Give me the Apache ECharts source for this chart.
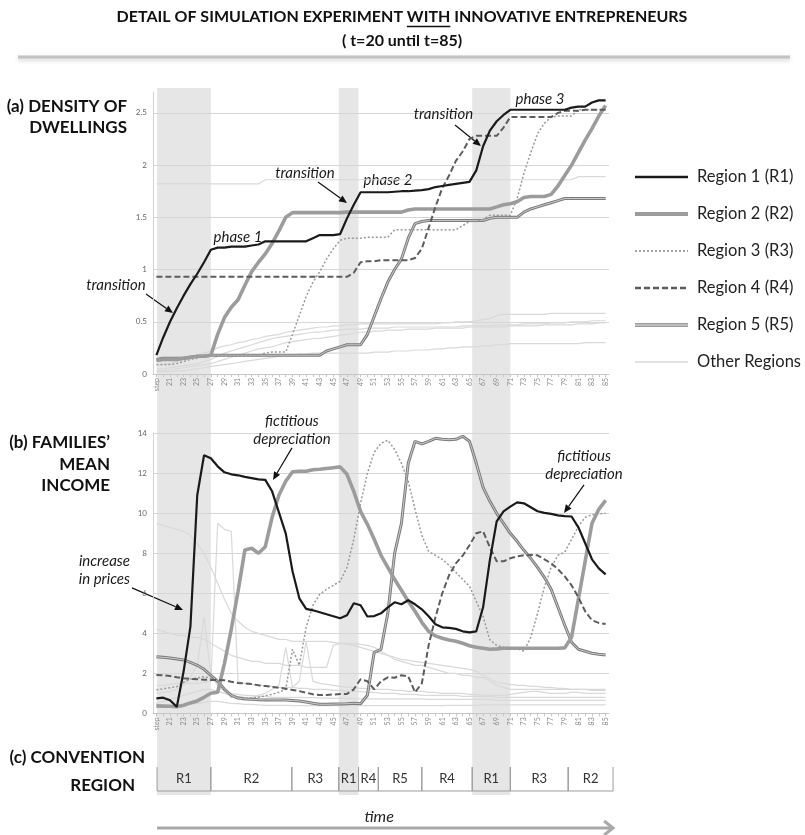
<!DOCTYPE html>
<html>
<head>
<meta charset="utf-8">
<title>Detail of simulation experiment with innovative entrepreneurs</title>
<style>
  html, body { margin: 0; padding: 0; background: #ffffff; }
  #chart { width: 805px; height: 835px; }
</style>
<script src="https://cdn.jsdelivr.net/npm/echarts@6/dist/echarts.min.js"></script>
</head>
<body>
<div id="chart"></div>
<script>
// ---- time steps (category axis) ----
const stepLabels = ['step','20','21','22','23','24','25','26','27','28','29','30','31','32','33','34','35','36','37','38',
  '39','40','41','42','43','44','45','46','47','48','49','50','51','52','53','54','55','56','57','58',
  '59','60','61','62','63','64','65','66','67','68','69','70','71','72','73','74','75','76','77','78',
  '79','80','81','82','83','84','85'];

// ---- (a) density of dwellings ----
const densR1 = [0.18,0.35,0.50,0.63,0.75,0.86,0.96,1.07,1.19,1.21,
  1.21,1.22,1.22,1.22,1.23,1.24,1.27,1.27,1.27,1.27,
  1.27,1.27,1.27,1.30,1.33,1.33,1.33,1.34,1.49,1.62,
  1.74,1.74,1.74,1.74,1.74,1.745,1.75,1.75,1.755,1.76,
  1.77,1.79,1.80,1.81,1.82,1.83,1.84,1.95,2.18,2.33,
  2.42,2.48,2.53,2.53,2.53,2.53,2.53,2.53,2.53,2.53,
  2.53,2.55,2.56,2.56,2.60,2.62,2.62];
const densR2 = [0.13,0.14,0.14,0.14,0.15,0.16,0.17,0.17,0.18,0.38,
  0.54,0.64,0.71,0.85,0.98,1.07,1.15,1.25,1.37,1.50,
  1.545,1.545,1.545,1.545,1.545,1.545,1.545,1.545,1.55,1.55,
  1.55,1.55,1.55,1.55,1.55,1.55,1.55,1.57,1.58,1.58,
  1.58,1.58,1.58,1.58,1.58,1.58,1.58,1.58,1.58,1.58,
  1.60,1.62,1.63,1.65,1.69,1.70,1.70,1.70,1.72,1.80,
  1.90,2.00,2.12,2.24,2.35,2.47,2.57];
const densR3 = [0.09,0.09,0.09,0.10,0.12,0.14,0.15,0.17,0.18,0.18,
  0.18,0.18,0.18,0.18,0.18,0.18,0.20,0.21,0.21,0.21,
  0.38,0.56,0.74,0.88,0.98,1.10,1.20,1.28,1.30,1.30,
  1.30,1.31,1.31,1.31,1.31,1.38,1.38,1.38,1.38,1.38,
  1.38,1.38,1.38,1.38,1.38,1.42,1.46,1.46,1.48,1.52,
  1.52,1.52,1.52,1.68,1.92,2.12,2.30,2.40,2.46,2.47,
  2.47,2.47,2.53,2.53,2.53,2.53,2.53];
const densR4 = [0.93,0.93,0.93,0.93,0.93,0.93,0.93,0.93,0.93,0.93,
  0.93,0.93,0.93,0.93,0.93,0.93,0.93,0.93,0.93,0.93,
  0.93,0.93,0.93,0.93,0.93,0.93,0.93,0.93,0.93,0.97,
  1.07,1.08,1.08,1.09,1.09,1.09,1.09,1.09,1.11,1.20,
  1.40,1.60,1.78,1.90,2.04,2.13,2.25,2.28,2.28,2.28,
  2.28,2.36,2.46,2.46,2.46,2.46,2.46,2.46,2.46,2.50,
  2.52,2.52,2.52,2.53,2.53,2.53,2.53];
const densR5 = [0.14,0.15,0.15,0.15,0.15,0.16,0.17,0.17,0.18,0.18,
  0.18,0.18,0.18,0.18,0.18,0.18,0.18,0.18,0.18,0.18,
  0.18,0.18,0.18,0.18,0.18,0.22,0.24,0.26,0.28,0.28,
  0.28,0.38,0.55,0.72,0.88,1.00,1.10,1.30,1.44,1.46,
  1.47,1.47,1.47,1.47,1.47,1.47,1.47,1.47,1.47,1.49,
  1.50,1.50,1.50,1.50,1.55,1.58,1.60,1.62,1.64,1.66,
  1.68,1.68,1.68,1.68,1.68,1.68,1.68];
const densOther1 = [1.82,1.82,1.82,1.82,1.82,1.82,1.82,1.82,1.82,1.82,
  1.82,1.82,1.82,1.82,1.82,1.82,1.86,1.86,1.86,1.86,
  1.86,1.86,1.86,1.86,1.86,1.86,1.86,1.86,1.86,1.86,
  1.86,1.86,1.86,1.86,1.86,1.86,1.86,1.86,1.86,1.86,
  1.86,1.86,1.86,1.86,1.86,1.86,1.86,1.86,1.86,1.86,
  1.86,1.86,1.86,1.86,1.86,1.86,1.86,1.86,1.86,1.86,
  1.86,1.86,1.89,1.89,1.89,1.89,1.89];
const densOther2 = [0.08,0.09,0.10,0.12,0.14,0.16,0.18,0.20,0.22,0.25,
  0.27,0.28,0.30,0.31,0.33,0.34,0.36,0.37,0.38,0.40,
  0.41,0.42,0.43,0.44,0.45,0.45,0.46,0.46,0.47,0.47,
  0.48,0.48,0.48,0.48,0.48,0.48,0.48,0.48,0.48,0.48,
  0.48,0.48,0.49,0.49,0.50,0.50,0.50,0.51,0.52,0.53,
  0.56,0.57,0.57,0.57,0.57,0.57,0.57,0.57,0.58,0.58,
  0.58,0.58,0.58,0.58,0.58,0.58,0.58];
const densOther3 = [0.05,0.05,0.06,0.07,0.08,0.09,0.10,0.12,0.14,0.17,
  0.20,0.22,0.24,0.26,0.28,0.30,0.32,0.34,0.35,0.36,
  0.37,0.38,0.39,0.40,0.40,0.41,0.42,0.42,0.43,0.43,
  0.43,0.44,0.44,0.44,0.44,0.45,0.45,0.45,0.45,0.45,
  0.45,0.45,0.45,0.45,0.45,0.46,0.46,0.46,0.46,0.46,
  0.47,0.47,0.47,0.47,0.48,0.48,0.48,0.48,0.49,0.49,
  0.49,0.50,0.50,0.50,0.51,0.51,0.51];
const densOther4 = [0.03,0.03,0.04,0.05,0.06,0.07,0.08,0.09,0.10,0.12,
  0.14,0.16,0.18,0.20,0.22,0.24,0.25,0.26,0.28,0.30,
  0.31,0.32,0.33,0.34,0.34,0.35,0.36,0.37,0.38,0.39,
  0.40,0.40,0.41,0.41,0.42,0.42,0.42,0.43,0.43,0.43,
  0.43,0.44,0.44,0.44,0.44,0.44,0.45,0.45,0.45,0.45,
  0.45,0.45,0.46,0.46,0.46,0.46,0.46,0.47,0.47,0.47,
  0.47,0.47,0.48,0.48,0.48,0.49,0.49];
const densOther5 = [0.02,0.02,0.02,0.03,0.03,0.04,0.05,0.06,0.07,0.08,
  0.09,0.10,0.11,0.12,0.13,0.14,0.15,0.16,0.17,0.18,
  0.18,0.19,0.19,0.20,0.20,0.20,0.20,0.20,0.20,0.20,
  0.20,0.20,0.21,0.21,0.21,0.22,0.22,0.22,0.23,0.23,
  0.23,0.24,0.24,0.25,0.25,0.26,0.26,0.26,0.27,0.27,
  0.28,0.28,0.29,0.29,0.29,0.29,0.29,0.29,0.29,0.29,
  0.29,0.29,0.29,0.30,0.30,0.30,0.30];

// ---- (b) families' mean income ----
const incR1 = [0.75,0.78,0.65,0.32,2.10,4.35,10.9,12.9,12.75,12.35,
  12.05,11.95,11.9,11.82,11.76,11.7,11.67,11.1,10.05,9.0,
  7.1,5.75,5.22,5.15,5.05,4.95,4.85,4.75,4.9,5.5,
  5.4,4.84,4.86,5.0,5.3,5.55,5.45,5.65,5.45,5.2,
  4.85,4.45,4.3,4.27,4.22,4.1,4.05,4.1,5.3,7.67,
  9.6,10.1,10.33,10.55,10.5,10.3,10.1,10.02,9.97,9.9,
  9.86,9.84,9.3,8.5,7.7,7.25,6.95];
const incR2 = [0.37,0.36,0.35,0.33,0.40,0.52,0.62,0.80,1.00,1.05,
  2.50,4.20,6.10,8.17,8.25,8.00,8.33,9.80,10.9,11.6,
  12.08,12.1,12.1,12.18,12.2,12.24,12.28,12.32,11.95,11.1,
  10.1,9.45,8.7,7.9,7.3,6.7,6.15,5.6,5.1,4.55,
  4.1,3.87,3.75,3.67,3.6,3.5,3.38,3.3,3.25,3.2,
  3.22,3.25,3.25,3.25,3.25,3.25,3.25,3.25,3.25,3.25,
  3.27,3.8,5.7,7.6,9.5,10.2,10.65];
const incR3 = [1.17,1.22,1.28,1.33,1.55,1.70,1.77,1.83,1.75,1.60,
  1.15,0.82,0.78,0.75,0.77,0.80,0.87,0.95,1.05,1.20,
  3.20,2.40,4.30,5.40,5.95,6.20,6.40,6.60,7.30,8.70,
  10.5,12.0,13.05,13.5,13.65,13.2,12.5,11.6,10.2,8.9,
  8.1,7.9,7.7,7.4,7.05,6.7,6.35,5.6,4.83,3.67,
  3.4,3.3,3.27,3.24,3.1,3.8,5.0,6.3,7.3,7.9,
  8.06,8.7,9.35,9.8,9.92,9.97,10.0];
const incR4 = [1.92,1.90,1.87,1.80,1.75,1.72,1.70,1.68,1.67,1.67,
  1.65,1.58,1.52,1.49,1.46,1.40,1.36,1.32,1.28,1.23,
  1.17,1.11,1.03,0.95,0.92,0.92,0.94,0.96,0.97,1.20,
  1.70,1.60,1.20,1.60,1.80,1.78,1.90,1.85,1.05,1.50,
  3.40,4.80,6.00,6.90,7.50,7.88,8.40,9.00,9.10,8.30,
  7.60,7.60,7.75,7.85,7.90,7.92,7.90,7.70,7.50,7.20,
  6.85,6.40,5.80,5.10,4.65,4.52,4.47];
const incR5 = [2.83,2.80,2.77,2.72,2.67,2.55,2.40,2.20,1.90,1.60,
  1.20,0.90,0.76,0.72,0.70,0.68,0.67,0.67,0.67,0.66,
  0.64,0.62,0.56,0.50,0.45,0.45,0.46,0.47,0.48,0.50,
  0.48,0.90,3.05,3.20,5.00,8.00,9.50,12.5,13.6,13.47,
  13.6,13.75,13.7,13.68,13.7,13.85,13.6,12.5,11.3,10.6,
  10.0,9.5,9.0,8.6,8.15,7.75,7.3,6.8,6.2,5.3,
  4.4,3.55,3.2,3.1,3.0,2.95,2.92];
const incOther1 = [9.5,9.4,9.3,9.2,9.1,8.9,8.5,8.0,7.3,6.5,
  5.7,5.0,4.6,4.3,4.1,4.0,3.9,3.8,3.7,3.7,
  3.6,3.6,3.6,3.6,3.6,3.6,3.55,3.5,3.45,3.4,
  3.3,3.2,3.1,3.0,2.9,2.8,2.7,2.65,2.6,2.55,
  2.5,2.45,2.4,2.35,2.3,2.25,2.2,2.1,1.9,1.7,
  1.55,1.5,1.45,1.4,1.4,1.35,1.35,1.3,1.3,1.25,
  1.25,1.2,1.2,1.2,1.15,1.15,1.15];
const incOther2 = [1.4,1.4,1.45,1.5,1.5,1.5,1.5,1.55,1.6,9.5,
  9.2,9.1,1.6,1.5,1.45,1.4,1.4,1.35,1.3,1.3,
  1.3,1.25,1.25,1.2,1.2,1.2,1.15,1.15,1.1,1.1,
  1.1,1.05,1.05,1.0,1.0,1.0,0.95,0.95,0.95,0.9,
  0.9,0.9,0.9,0.9,0.9,0.85,0.85,0.85,0.85,0.85,
  0.8,0.8,0.8,0.8,0.8,0.8,0.8,0.8,0.8,0.8,
  0.8,0.8,0.8,0.8,0.8,0.8,0.8];
const incOther3 = [4.2,4.1,4.0,3.9,3.9,3.8,3.8,3.7,3.5,3.3,
  3.1,2.9,2.8,2.7,2.6,2.6,2.5,2.5,2.5,2.4,
  2.4,2.4,2.3,2.3,2.3,2.3,3.4,3.5,3.5,3.5,
  3.45,3.4,3.3,3.1,2.9,2.7,2.6,2.5,2.4,2.4,
  2.3,2.2,2.1,2.0,2.0,1.9,1.9,1.8,1.8,1.6,
  1.4,1.3,1.2,1.2,1.2,1.2,1.2,1.2,1.2,1.2,
  1.2,1.2,1.2,1.2,1.2,1.2,1.2];
const incOther4 = [1.0,1.05,1.1,1.2,1.4,1.8,2.4,4.8,1.9,1.4,
  1.1,1.0,0.95,0.9,0.9,0.85,0.85,0.8,0.8,0.8,
  0.8,0.8,0.78,0.78,0.76,0.76,0.75,0.75,0.74,0.74,
  0.72,0.72,0.72,0.72,0.72,0.72,0.72,0.72,0.72,0.72,
  0.7,0.7,0.7,0.7,0.7,0.7,0.7,0.7,0.7,0.7,
  0.65,0.65,0.65,0.65,0.65,0.65,0.65,0.65,0.65,0.65,
  0.65,0.65,0.65,0.65,0.65,0.65,0.65];
const incOther5 = [0.5,0.6,0.7,0.8,0.9,1.0,1.1,1.2,1.2,1.1,
  1.0,0.9,0.85,0.8,0.8,0.9,1.0,1.2,1.4,3.3,
  1.3,1.6,3.6,1.6,1.5,1.45,1.4,1.35,1.3,1.3,
  1.25,1.25,1.2,1.2,1.2,1.15,1.15,1.1,1.1,1.1,
  1.05,1.05,1.0,1.0,1.0,1.0,0.95,0.95,0.9,0.9,
  0.9,0.9,0.95,1.0,1.05,1.1,1.1,1.05,1.0,1.0,
  1.0,1.05,1.05,1.0,1.0,1.0,1.0];
const incOther6 = [0.3,0.3,0.32,0.35,0.4,0.45,0.5,0.55,0.6,0.6,
  0.55,0.5,0.48,0.45,0.45,0.42,0.4,0.4,0.4,0.4,
  0.38,0.38,0.38,0.38,0.38,0.38,0.38,0.38,0.38,0.38,
  0.38,0.38,0.38,0.38,0.38,0.38,0.38,0.38,0.38,0.38,
  0.38,0.38,0.38,0.4,0.4,0.4,0.4,0.4,0.42,0.42,
  0.42,0.42,0.42,0.42,0.42,0.42,0.42,0.42,0.42,0.42,
  0.42,0.42,0.42,0.42,0.42,0.42,0.42];

// ---- (c) convention region: leading region per period, with period edges in time units ----
const convLabels = ['R1','R2','R3','R1','R4','R5','R4','R1','R3','R2'];
const convEdges = [19.1, 27, 38.9, 45.8, 48.7, 51.6, 58, 65.4, 71, 79.5, 86.1];

// ---- line styles shared by series and legend ----
const FONT = 'Lato, "Open Sans", "Liberation Sans", sans-serif';
const styleR1 = { color: '#1a1a1a', width: 2.2 };
const styleR2 = { color: '#9c9c9c', width: 3.6 };
const styleR3 = { color: '#9a9a9a', width: 1.5, type: [2, 2] };
const styleR4 = { color: '#5c5c5c', width: 2, type: [6, 3] };
const styleR5outer = { color: '#7b7b7b', width: 3 };
const styleR5inner = { color: '#d4d4d4', width: 0.9 };
const styleOther = { color: '#d9d9d9', width: 1.2 };

const PANEL_LEFT = 153, PANEL_RIGHT = 196;
const STEP_MIN = 18.5, STEP_MAX = 85.5;

function lineSeries(name, data, panel, style, z) {
  return {
    type: 'line', name: name, data: data, xAxisIndex: panel, yAxisIndex: panel,
    symbol: 'none', showSymbol: false, silent: true, animation: false, z: z,
    lineStyle: Object.assign({}, style)
  };
}

function categoryAxis(gridIndex) {
  return {
    type: 'category', gridIndex: gridIndex, data: stepLabels, boundaryGap: true,
    axisLine: { show: true, lineStyle: { color: '#c6c6c6', width: 1 } },
    axisTick: { show: true, interval: 0, alignWithLabel: true, length: 3, lineStyle: { color: '#c6c6c6' } },
    axisLabel: { interval: 1, rotate: 90, fontSize: 7, color: '#8a8a8a', margin: 4, fontFamily: FONT },
    splitLine: { show: false }
  };
}

function valueAxis(gridIndex, max, interval) {
  return {
    type: 'value', gridIndex: gridIndex, min: 0, max: max, interval: interval,
    axisLine: { show: true, lineStyle: { color: '#d2d2d2' } },
    axisTick: { show: false },
    axisLabel: { fontSize: 8, color: '#666', margin: 6, fontFamily: FONT, showMaxLabel: max % interval === 0 },
    splitLine: { show: true, showMaxLine: max % interval === 0, lineStyle: { color: '#d6d6d6', width: 1 } }
  };
}

const series = [];
// background bands: periods where Region 1 is the convention
const bandData = [];
convLabels.forEach(function (lbl, i) { if (lbl === 'R1') bandData.push([convEdges[i], convEdges[i + 1]]); });
series.push({
  type: 'custom', xAxisIndex: 2, yAxisIndex: 2, silent: true, animation: false, z: -10,
  data: bandData,
  renderItem: function (params, api) {
    const a = api.coord([api.value(0), 1]);
    const b = api.coord([api.value(1), 0]);
    return { type: 'rect', shape: { x: a[0], y: a[1], width: b[0] - a[0], height: b[1] - a[1] },
      style: { fill: '#e6e6e6' } };
  }
});

// panel (a)
[densOther1, densOther2, densOther3, densOther4, densOther5].forEach(function (d) {
  series.push(lineSeries('Other Regions', d, 0, styleOther, 2));
});
series.push(lineSeries('Region 5 (R5)', densR5, 0, styleR5outer, 3));
series.push(lineSeries('Region 5 (R5) core', densR5, 0, styleR5inner, 3));
series.push(lineSeries('Region 2 (R2)', densR2, 0, styleR2, 4));
series.push(lineSeries('Region 3 (R3)', densR3, 0, styleR3, 5));
series.push(lineSeries('Region 4 (R4)', densR4, 0, styleR4, 5));
series.push(lineSeries('Region 1 (R1)', densR1, 0, styleR1, 6));

// panel (b)
[incOther1, incOther2, incOther3, incOther4, incOther5, incOther6].forEach(function (d) {
  series.push(lineSeries('Other Regions', d, 1, styleOther, 2));
});
series.push(lineSeries('Region 5 (R5)', incR5, 1, styleR5outer, 3));
series.push(lineSeries('Region 5 (R5) core', incR5, 1, styleR5inner, 3));
series.push(lineSeries('Region 2 (R2)', incR2, 1, styleR2, 4));
series.push(lineSeries('Region 3 (R3)', incR3, 1, styleR3, 5));
series.push(lineSeries('Region 4 (R4)', incR4, 1, styleR4, 5));
series.push(lineSeries('Region 1 (R1)', incR1, 1, styleR1, 6));

// panel (c): convention boxes
series.push({
  type: 'custom', xAxisIndex: 3, yAxisIndex: 3, silent: true, animation: false, z: 3,
  data: convLabels.map(function (l, i) { return [convEdges[i], convEdges[i + 1]]; }),
  renderItem: function (params, api) {
    const a = api.coord([api.value(0), 1]);
    const b = api.coord([api.value(1), 0]);
    const stroke = { stroke: '#9c9c9c', lineWidth: 1 };
    return { type: 'group', children: [
      { type: 'line', shape: { x1: a[0], y1: a[1], x2: a[0], y2: b[1] }, style: stroke },
      { type: 'line', shape: { x1: b[0], y1: a[1], x2: b[0], y2: b[1] }, style: stroke },
      { type: 'line', shape: { x1: a[0], y1: b[1], x2: b[0], y2: b[1] }, style: stroke },
      { type: 'text', x: (a[0] + b[0]) / 2, y: (a[1] + b[1]) / 2,
        style: { text: convLabels[params.dataIndex], align: 'center', verticalAlign: 'middle',
          fontSize: 13, fontFamily: FONT, fill: '#333' } }
    ] };
  }
});

const chart = echarts.init(document.getElementById('chart'), null, { renderer: 'canvas' });
chart.setOption({
  animation: false,
  backgroundColor: '#ffffff',
  grid: [
    { left: PANEL_LEFT, right: PANEL_RIGHT, top: 92, height: 282 },
    { left: PANEL_LEFT, right: PANEL_RIGHT, top: 433.3, height: 280 },
    { left: PANEL_LEFT, right: PANEL_RIGHT, top: 88, height: 707 },
    { left: PANEL_LEFT, width: (87 - STEP_MIN) * (805 - PANEL_LEFT - PANEL_RIGHT) / (STEP_MAX - STEP_MIN), top: 767, height: 24 }
  ],
  xAxis: [
    categoryAxis(0),
    categoryAxis(1),
    { type: 'value', gridIndex: 2, min: STEP_MIN, max: STEP_MAX, show: false },
    { type: 'value', gridIndex: 3, min: STEP_MIN, max: 87, show: false }
  ],
  yAxis: [
    valueAxis(0, 2.7, 0.5),
    valueAxis(1, 14, 2),
    { type: 'value', gridIndex: 2, min: 0, max: 1, show: false },
    { type: 'value', gridIndex: 3, min: 0, max: 1, show: false }
  ],
  series: series
});

// ---- annotations placed in data coordinates (t, value) ----
const notesA = [
  { text: 'transition', at: [13.06, 0.852], from: [17.47, 0.766], to: [21.44, 0.584] },
  { text: 'phase 1', at: [30.99, 1.312] },
  { text: 'transition', at: [40.83, 1.925], from: [42.74, 1.838], to: [47.0, 1.637] },
  { text: 'phase 2', at: [53.03, 1.858] },
  { text: 'transition', at: [61.18, 2.489], from: [62.87, 2.384], to: [66.69, 2.183] },
  { text: 'phase 3', at: [75.36, 2.633] }
];
const notesB = [
  { text: 'fictitious\ndepreciation', at: [38.92, 14.17], from: [38.92, 13.27], to: [36.13, 11.67] },
  { text: 'fictitious\ndepreciation', at: [81.83, 12.42], from: [81.83, 11.42], to: [78.89, 10.02] },
  { text: 'increase\nin prices', at: [15.12, 7.17], from: [15.41, 6.27], to: [22.91, 5.17], align: 'right' }
];

const xPix = function (t) { return chart.convertToPixel({ xAxisIndex: 2 }, t); };
const yPix = function (panel, v) { return chart.convertToPixel({ yAxisIndex: panel }, v); };

function arrow(x1, y1, x2, y2, color, width, headLen, headW) {
  const ang = Math.atan2(y2 - y1, x2 - x1);
  const bx = x2 - headLen * Math.cos(ang), by = y2 - headLen * Math.sin(ang);
  const px = -Math.sin(ang) * headW, py = Math.cos(ang) * headW;
  return [
    { type: 'line', silent: true, shape: { x1: x1, y1: y1, x2: bx, y2: by }, style: { stroke: color, lineWidth: width } },
    { type: 'polygon', silent: true, shape: { points: [[x2, y2], [bx + px, by + py], [bx - px, by - py]] }, style: { fill: color } }
  ];
}

function textEl(text, x, y, font, align, color, lineHeight) {
  return { type: 'text', silent: true, x: x, y: y,
    style: { text: text, font: font, fill: color || '#111', align: align, textAlign: align,
      verticalAlign: 'middle', textVerticalAlign: 'middle', lineHeight: lineHeight || 18 } };
}

const graphic = [];
const NOTE_FONT = 'italic 15px ' + FONT;
function addNotes(list, panel) {
  list.forEach(function (n) {
    graphic.push(textEl(n.text, xPix(n.at[0]), yPix(panel, n.at[1]), NOTE_FONT, n.align || 'center', '#1a1a1a', 18));
    if (n.from) {
      arrow(xPix(n.from[0]), yPix(panel, n.from[1]), xPix(n.to[0]), yPix(panel, n.to[1]), '#111', 1.2, 8, 3.5)
        .forEach(function (e) { graphic.push(e); });
    }
  });
}
addNotes(notesA, 0);
addNotes(notesB, 1);

// ---- heading ----
const TITLE = 'DETAIL OF SIMULATION EXPERIMENT WITH INNOVATIVE ENTREPRENEURS';
const TITLE_FONT = 'bold 16px ' + FONT;
const measure = document.createElement('canvas').getContext('2d');
measure.font = TITLE_FONT;
const titleW = measure.measureText(TITLE).width;
const preW = measure.measureText('DETAIL OF SIMULATION EXPERIMENT ').width;
const withW = measure.measureText('WITH').width;
const titleLeft = 402 - titleW / 2;
graphic.push(textEl(TITLE, 402, 17, TITLE_FONT, 'center', '#111'));
graphic.push({ type: 'line', silent: true, shape: { x1: titleLeft + preW, y1: 26.5, x2: titleLeft + preW + withW, y2: 26.5 },
  style: { stroke: '#111', lineWidth: 1.4 } });
graphic.push(textEl('( t=20 until t=85)', 402, 41, TITLE_FONT, 'center', '#111'));
graphic.push({ type: 'line', silent: true, shape: { x1: 18, y1: 57, x2: 790, y2: 57 },
  style: { stroke: '#c2c2c2', lineWidth: 3, shadowBlur: 4, shadowOffsetY: 2, shadowColor: 'rgba(0,0,0,0.18)' } });

// ---- panel headings ----
const HEAD_FONT = 'bold 17px ' + FONT;
[['(a) DENSITY OF', 127, 107], ['DWELLINGS', 127, 128],
 ['(b) FAMILIES\u2019', 110, 443], ['MEAN', 110, 465], ['INCOME', 110, 486],
 ['(c) CONVENTION', 145, 758], ['REGION', 135, 786]].forEach(function (h) {
  graphic.push(textEl(h[0], h[1], h[2], HEAD_FONT, 'right', '#111'));
});

// ---- legend ----
const legendItems = [
  { name: 'Region 1 (R1)', styles: [styleR1] },
  { name: 'Region 2 (R2)', styles: [styleR2] },
  { name: 'Region 3 (R3)', styles: [styleR3] },
  { name: 'Region 4 (R4)', styles: [styleR4] },
  { name: 'Region 5 (R5)', styles: [styleR5outer, styleR5inner] },
  { name: 'Other Regions', styles: [styleOther] }
];
legendItems.forEach(function (item, i) {
  const y = 177 + i * 37;
  item.styles.forEach(function (s) {
    graphic.push({ type: 'line', silent: true, shape: { x1: 635, y1: y, x2: 688, y2: y },
      style: { stroke: s.color, lineWidth: s.width + (item.styles.length > 1 ? 0.6 : 0.3), lineDash: Array.isArray(s.type) ? s.type : null } });
  });
  graphic.push(textEl(item.name, 697, y, '16.5px ' + FONT, 'left', '#222'));
});

// ---- time arrow under the convention row ----
const tx0 = chart.convertToPixel({ xAxisIndex: 3 }, convEdges[0]);
const tx1 = chart.convertToPixel({ xAxisIndex: 3 }, convEdges[convEdges.length - 1]);
graphic.push({ type: 'line', silent: true, shape: { x1: tx0, y1: 828, x2: tx1 - 1, y2: 828 },
  style: { stroke: '#a9a9a9', lineWidth: 3 } });
graphic.push({ type: 'polyline', silent: true, shape: { points: [[tx1 - 9, 821], [tx1, 828], [tx1 - 9, 835]] },
  style: { stroke: '#a9a9a9', lineWidth: 3, fill: null } });
graphic.push(textEl('time', (tx0 + tx1) / 2 - 6, 817, 'italic 16px ' + FONT, 'center', '#222'));

chart.setOption({ graphic: graphic });
</script>
</body>
</html>
